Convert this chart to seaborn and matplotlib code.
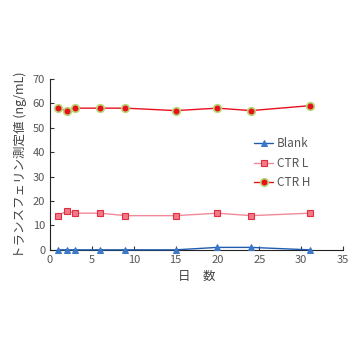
import pandas as pd
import seaborn as sns
import matplotlib.pyplot as plt

# data
days = [1, 2, 3, 6, 9, 15, 20, 24, 31]
blank = [0, 0, 0, 0, 0, 0, 1, 1, 0]
ctr_l = [14, 16, 15, 15, 14, 14, 15, 14, 15]
ctr_h = [58, 57, 58, 58, 58, 57, 58, 57, 59]

sns.set_style("ticks")
plt.rcParams['font.family'] = ['Noto Sans CJK JP', 'DejaVu Sans']

fig = plt.figure(figsize=(3.6, 3.6), dpi=100)
ax = fig.add_axes([0.139, 0.306, 0.814, 0.475])

sns.lineplot(x=days, y=blank, ax=ax, color="#1f5cb0", lw=1, marker="^",
             markersize=4.8, markerfacecolor="#3b78c8", markeredgecolor="#3b78c8",
             label="Blank", clip_on=False, zorder=5)
sns.lineplot(x=days, y=ctr_l, ax=ax, color="#f08a9a", lw=1, marker="s",
             markersize=5, markerfacecolor="#f07a8a", markeredgecolor="#e03040",
             markeredgewidth=0.8, label="CTR L")
sns.lineplot(x=days, y=ctr_h, ax=ax, color="#e8101c", lw=1, marker="o",
             markersize=5.5, markerfacecolor="#e8101c", markeredgecolor="#b8d878",
             markeredgewidth=1.2, label="CTR H")

ax.set_xlim(0, 35)
ax.set_ylim(0, 70)
ax.set_xticks(range(0, 36, 5))
ax.set_yticks(range(0, 71, 10))
ax.tick_params(direction="in", length=3, width=0.8, labelsize=8, colors="#333333",
               labelcolor="#555555")
for s in ["left", "bottom"]:
    ax.spines[s].set_linewidth(0.8)
    ax.spines[s].set_color("#222222")
sns.despine(ax=ax)

ax.set_xlabel("日　数", fontsize=9, color="#444444")
ax.set_ylabel("トランスフェリン測定値 (ng/mL)", fontsize=9, color="#444444")

ax.legend(loc="upper left", bbox_to_anchor=(0.66, 0.72), frameon=False,
          fontsize=8.5, handlelength=1.6, labelspacing=0.55, handletextpad=0.3,
          labelcolor="#555555")

fig.savefig("out.png", dpi=100)
